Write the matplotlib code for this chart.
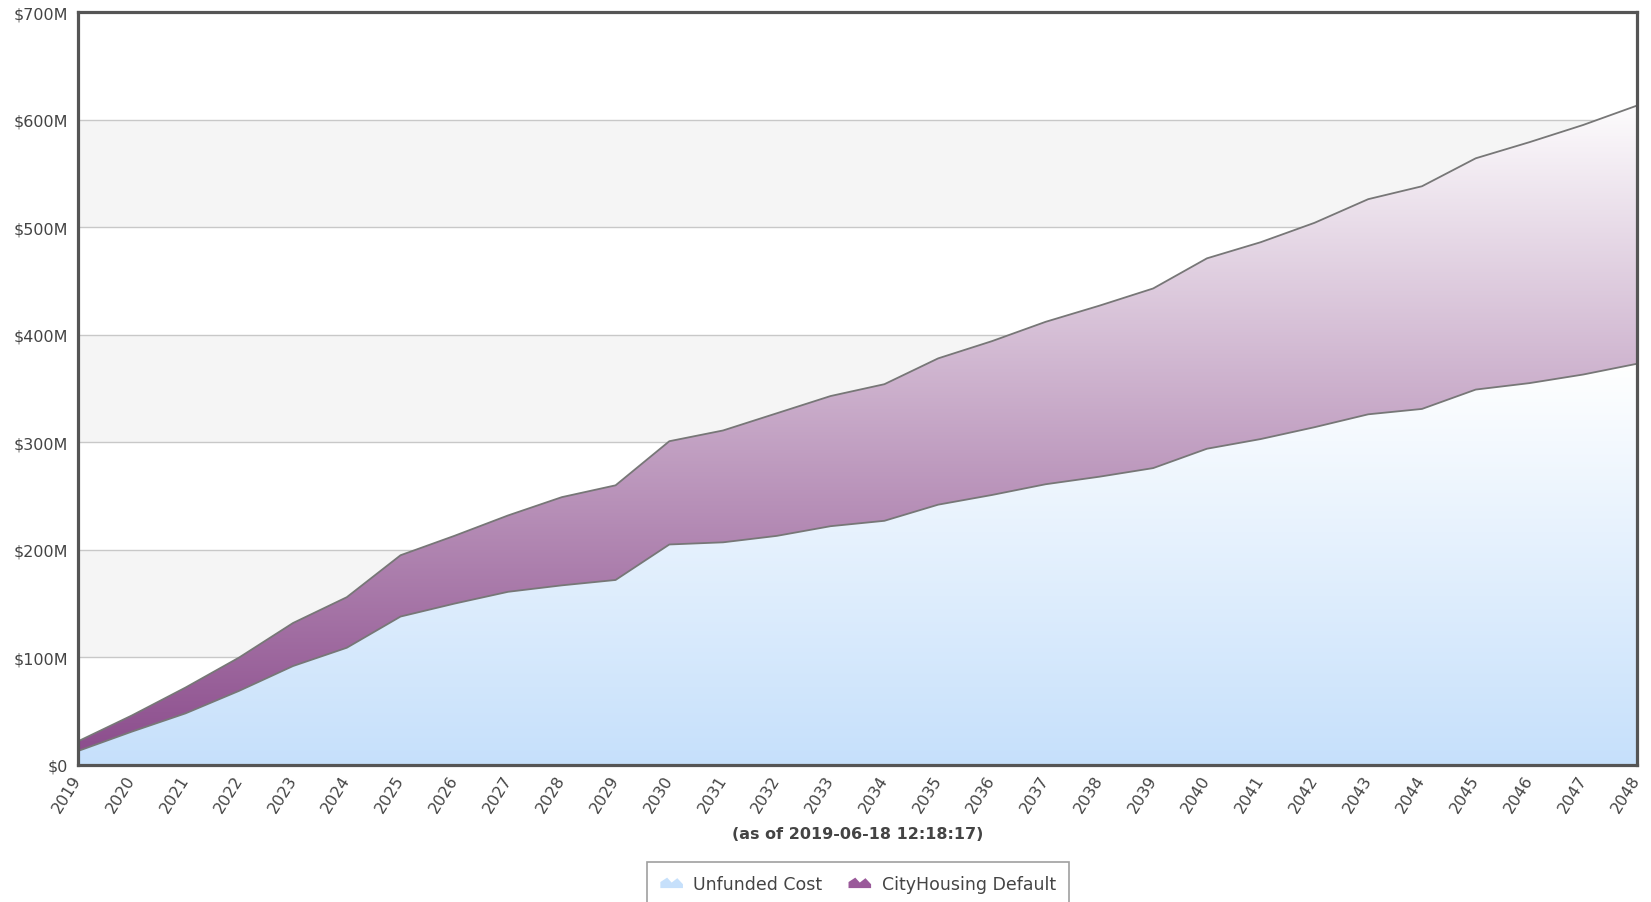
import numpy as np
import matplotlib
matplotlib.use("Agg")
import matplotlib.pyplot as plt
from matplotlib.colors import LinearSegmentedColormap
from matplotlib.legend_handler import HandlerBase
from matplotlib.patches import Polygon

## Data (values in $M)
years = list(range(2019, 2049))
unfunded_cost = [13, 31, 48, 69, 92, 109, 138, 150, 161, 167, 172, 205, 207, 213, 222, 227,
                 242, 251, 261, 268, 276, 294, 303, 314, 326, 331, 349, 355, 363, 373]
total_with_default = [22, 46, 72, 100, 132, 156, 195, 213, 232, 249, 260, 301, 311, 327, 343, 354,
                      378, 394, 412, 427, 443, 471, 486, 504, 526, 538, 564, 579, 595, 613]
y_ticks = [0, 100, 200, 300, 400, 500, 600, 700]
y_tick_labels = ["$0", "$100M", "$200M", "$300M", "$400M", "$500M", "$600M", "$700M"]
series_names = ["Unfunded Cost", "CityHousing Default"]
subtitle = "(as of 2019-06-18 12:18:17)"

W, H = 1651, 903
fig = plt.figure(figsize=(W / 100, H / 100), dpi=100)
ax = fig.add_axes([78 / W, 1 - 766 / H, (1637 - 78) / W, (766 - 13) / H])

x = np.array(years)
low = np.array(unfunded_cost)
high = np.array(total_with_default)

# alternating background bands + grid
for i, b in enumerate(range(0, 700, 100)):
    if i % 2 == 1:
        ax.axhspan(b, b + 100, color="#f5f5f5", zorder=0, lw=0)
for t in y_ticks[1:-1]:
    ax.axhline(t, color="#c8c8c8", lw=1.0, zorder=1)

blue_cmap = LinearSegmentedColormap.from_list("blue", ["#c6e0fb", "#ffffff"])
purple_cmap = LinearSegmentedColormap.from_list("purple", ["#8a4a8b", "#ffffff"])


def gradient_fill(y1, y2, cmap, top):
    poly = ax.fill_between(x, y1, y2, color="none", lw=0, zorder=2)
    grad = np.linspace(0, 1, 256).reshape(-1, 1)
    im = ax.imshow(grad, cmap=cmap, origin="lower", aspect="auto",
                   extent=[x[0], x[-1], 0, top], zorder=2)
    im.set_clip_path(poly.get_paths()[0], transform=ax.transData)


gradient_fill(0, low, blue_cmap, low.max())
gradient_fill(low, high, purple_cmap, high.max() + 10)
ax.set_xlim(x[0], x[-1])
ax.set_ylim(0, 700)

ax.plot(x, low, color="#777777", lw=1.3, zorder=3)
ax.plot(x, high, color="#777777", lw=1.3, zorder=3)

for s in ax.spines.values():
    s.set_color("#555555")
    s.set_linewidth(2.3)
    s.set_zorder(5)

ax.set_yticks(y_ticks)
ax.set_yticklabels(y_tick_labels)
ax.set_xticks(years)
ax.set_xticklabels([str(y) for y in years], rotation=58, ha="right", va="center",
                   rotation_mode="anchor")
ax.tick_params(axis="both", length=0, labelsize=11.5, labelcolor="#444444")
ax.tick_params(axis="y", pad=7)
ax.tick_params(axis="x", pad=8)

fig.text(857.5 / W, 1 - 835 / H, subtitle, ha="center", va="center",
         fontsize=11.5, fontweight="bold", color="#444444")


class AreaHandler(HandlerBase):
    def create_artists(self, legend, orig_handle, xdescent, ydescent, width, height, fontsize, trans):
        x0, y0 = -xdescent, -ydescent
        pts = [(x0, y0), (x0, y0 + height * 0.55), (x0 + width * 0.3, y0 + height * 0.95),
               (x0 + width * 0.5, y0 + height * 0.5), (x0 + width * 0.75, y0 + height * 0.9),
               (x0 + width, y0 + height * 0.35), (x0 + width, y0)]
        p = Polygon(pts, closed=True, facecolor=orig_handle.get_facecolor(), edgecolor="none",
                    transform=trans)
        return [p]


handles = [Polygon([(0, 0)], facecolor="#c6e0fb"), Polygon([(0, 0)], facecolor="#9a5a9a")]
leg = fig.legend(handles, series_names, loc="upper center",
                 bbox_to_anchor=(858 / W, 1 - 854 / H), ncol=2, frameon=True,
                 fancybox=False, edgecolor="#888888", fontsize=12.5, handlelength=1.3,
                 handleheight=0.6, handletextpad=0.6, columnspacing=1.5, borderpad=0.75,
                 handler_map={Polygon: AreaHandler()})
leg.get_frame().set_linewidth(1.2)
for t in leg.get_texts():
    t.set_color("#444444")

fig.savefig("out.png", dpi=100)
